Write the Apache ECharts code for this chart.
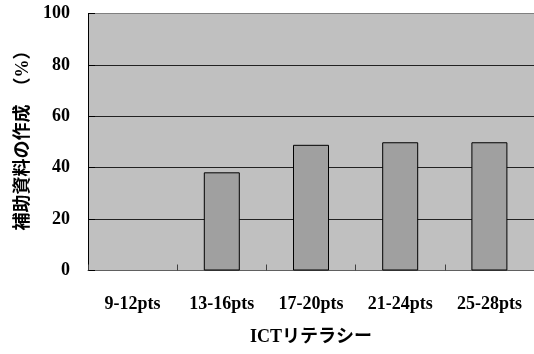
<!DOCTYPE html>
<html>
<head>
<meta charset="utf-8">
<script src="https://cdn.jsdelivr.net/npm/echarts@6/dist/echarts.min.js"></script>
<style>
  html, body { margin: 0; padding: 0; background: #fff; }
  #chart { width: 534px; height: 354px; }
</style>
</head>
<body>
<div id="chart"></div>
<script>
// ICT literacy score bands
const categories = ['9-12pts', '13-16pts', '17-20pts', '21-24pts', '25-28pts'];
// share (%) producing supplementary materials
const values = [null, 38.2, 48.9, 49.9, 49.9];
const yTicks = [0, 20, 40, 60, 80, 100];

const serif = "'Liberation Serif', 'Times New Roman', 'Noto Sans CJK JP', serif";

const chart = echarts.init(document.getElementById('chart'), null, { renderer: 'canvas' });
chart.setOption({
  animation: false,
  backgroundColor: '#ffffff',
  grid: {
    left: 88, top: 13.5, width: 448, height: 257,
    show: true, backgroundColor: '#C0C0C0', borderWidth: 0
  },
  xAxis: {
    type: 'category',
    data: categories,
    axisLine: { show: true, lineStyle: { color: '#606060', width: 1 } },
    axisTick: { show: true, inside: true, length: 6, lineStyle: { color: '#404040' } },
    axisLabel: { margin: 25, color: '#000', fontFamily: serif, fontWeight: 'bold', fontSize: 18 },
    name: 'ICTリテラシー',
    nameLocation: 'middle',
    nameGap: 58,
    nameTextStyle: { color: '#000', fontFamily: serif, fontWeight: 'bold', fontSize: 18 }
  },
  yAxis: {
    type: 'value',
    min: yTicks[0], max: yTicks[yTicks.length - 1], interval: 20,
    axisLine: { show: true, lineStyle: { color: '#000', width: 1 } },
    axisTick: { show: true, inside: true, length: 7, lineStyle: { color: '#000' } },
    axisLabel: { margin: 18, color: '#000', fontFamily: serif, fontWeight: 'bold', fontSize: 18 },
    splitLine: {
      show: true,
      lineStyle: { color: ['#808080', '#222', '#222', '#222', '#222', '#808080'], width: 1 }
    },
    name: '補助資料の作成　（%）',
    nameLocation: 'middle',
    nameGap: 55,
    nameRotate: 90,
    nameTextStyle: {
      color: '#000', fontFamily: serif, fontWeight: 'bold', fontSize: 18,
      padding: [0, 0, 0, 12]
    }
  },
  series: [{
    type: 'bar',
    data: values,
    barWidth: 36,
    itemStyle: { color: '#A0A0A0', borderColor: '#000', borderWidth: 1 }
  }]
});
</script>
</body>
</html>
